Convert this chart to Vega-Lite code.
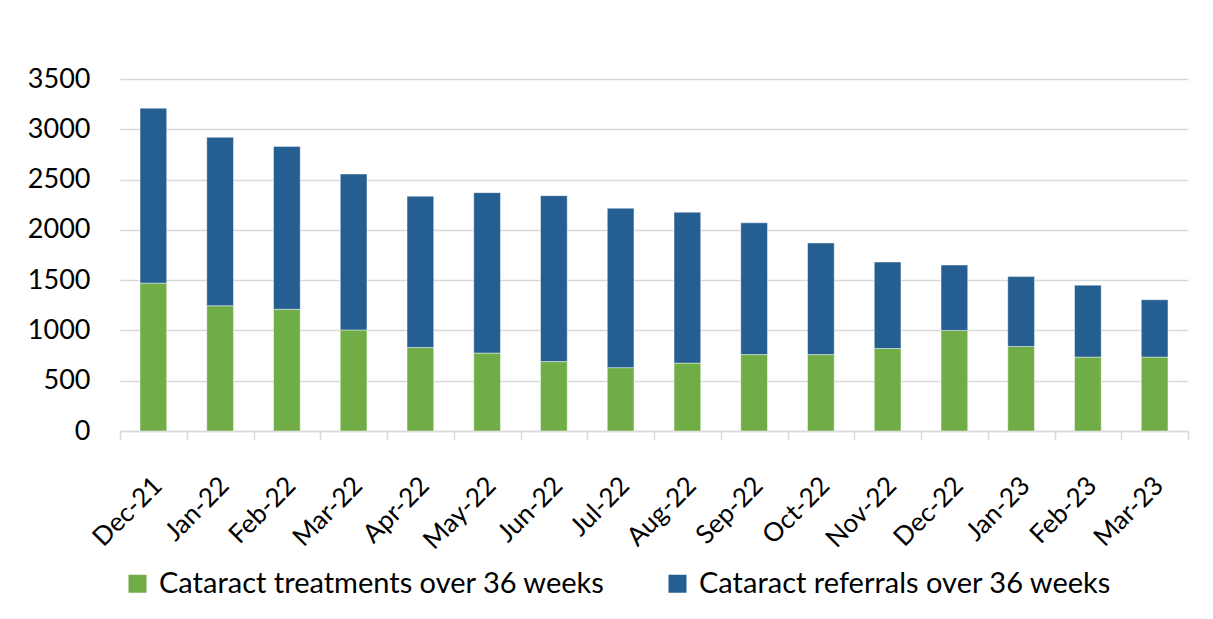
{
  "$schema": "https://vega.github.io/schema/vega-lite/v6.json",
  "autosize": "none",
  "width": 1068,
  "height": 352,
  "padding": {"left": 120, "top": 79, "right": 25, "bottom": 188},
  "background": "white",
  "config": {
    "font": "Lato",
    "view": {"stroke": null}
  },
  "data": {
    "values": [
      {"month": "Dec-21", "series": "Cataract treatments over 36 weeks", "value": 1470},
      {"month": "Dec-21", "series": "Cataract referrals over 36 weeks", "value": 1740},
      {"month": "Jan-22", "series": "Cataract treatments over 36 weeks", "value": 1245},
      {"month": "Jan-22", "series": "Cataract referrals over 36 weeks", "value": 1675},
      {"month": "Feb-22", "series": "Cataract treatments over 36 weeks", "value": 1210},
      {"month": "Feb-22", "series": "Cataract referrals over 36 weeks", "value": 1620},
      {"month": "Mar-22", "series": "Cataract treatments over 36 weeks", "value": 1005},
      {"month": "Mar-22", "series": "Cataract referrals over 36 weeks", "value": 1550},
      {"month": "Apr-22", "series": "Cataract treatments over 36 weeks", "value": 830},
      {"month": "Apr-22", "series": "Cataract referrals over 36 weeks", "value": 1505},
      {"month": "May-22", "series": "Cataract treatments over 36 weeks", "value": 775},
      {"month": "May-22", "series": "Cataract referrals over 36 weeks", "value": 1595},
      {"month": "Jun-22", "series": "Cataract treatments over 36 weeks", "value": 690},
      {"month": "Jun-22", "series": "Cataract referrals over 36 weeks", "value": 1650},
      {"month": "Jul-22", "series": "Cataract treatments over 36 weeks", "value": 630},
      {"month": "Jul-22", "series": "Cataract referrals over 36 weeks", "value": 1585},
      {"month": "Aug-22", "series": "Cataract treatments over 36 weeks", "value": 675},
      {"month": "Aug-22", "series": "Cataract referrals over 36 weeks", "value": 1500},
      {"month": "Sep-22", "series": "Cataract treatments over 36 weeks", "value": 760},
      {"month": "Sep-22", "series": "Cataract referrals over 36 weeks", "value": 1310},
      {"month": "Oct-22", "series": "Cataract treatments over 36 weeks", "value": 760},
      {"month": "Oct-22", "series": "Cataract referrals over 36 weeks", "value": 1110},
      {"month": "Nov-22", "series": "Cataract treatments over 36 weeks", "value": 820},
      {"month": "Nov-22", "series": "Cataract referrals over 36 weeks", "value": 860},
      {"month": "Dec-22", "series": "Cataract treatments over 36 weeks", "value": 1000},
      {"month": "Dec-22", "series": "Cataract referrals over 36 weeks", "value": 650},
      {"month": "Jan-23", "series": "Cataract treatments over 36 weeks", "value": 840},
      {"month": "Jan-23", "series": "Cataract referrals over 36 weeks", "value": 695},
      {"month": "Feb-23", "series": "Cataract treatments over 36 weeks", "value": 735},
      {"month": "Feb-23", "series": "Cataract referrals over 36 weeks", "value": 715},
      {"month": "Mar-23", "series": "Cataract treatments over 36 weeks", "value": 735},
      {"month": "Mar-23", "series": "Cataract referrals over 36 weeks", "value": 570}
    ]
  },
  "mark": {"type": "bar", "width": {"band": 0.4}, "stroke": "white", "strokeWidth": 0.75, "strokeOpacity": 0.6},
  "encoding": {
    "x": {
      "field": "month",
      "type": "nominal",
      "sort": null,
      "scale": {"paddingInner": 0, "paddingOuter": 0},
      "axis": {
        "title": null,
        "labelAngle": -45,
        "labelFontSize": 26,
        "labelColor": "black",
        "labelPadding": 32,
        "labelOffset": -5,
        "tickBand": "extent",
        "tickColor": "#d9d9d9",
        "tickWidth": 1.5,
        "tickSize": 9,
        "domainColor": "#d9d9d9",
        "domainWidth": 1.5
      }
    },
    "y": {
      "field": "value",
      "type": "quantitative",
      "stack": "zero",
      "scale": {"domain": [0, 3500], "nice": false},
      "axis": {
        "title": null,
        "values": [0, 500, 1000, 1500, 2000, 2500, 3000, 3500],
        "format": "d",
        "labelFontSize": 27,
        "labelColor": "black",
        "labelPadding": 30,
        "ticks": false,
        "domain": false,
        "gridColor": "#d9d9d9",
        "gridWidth": 1.5
      }
    },
    "color": {
      "field": "series",
      "type": "nominal",
      "scale": {
        "domain": ["Cataract treatments over 36 weeks", "Cataract referrals over 36 weeks"],
        "range": ["#70AD47", "#255E91"]
      },
      "legend": {
        "title": null,
        "orient": "none",
        "legendX": 3,
        "legendY": 490,
        "direction": "horizontal",
        "symbolType": "square",
        "symbolSize": 324,
        "symbolStrokeWidth": 0,
        "labelFontSize": 29,
        "labelLimit": 0,
        "labelOffset": 7,
        "labelColor": "black",
        "columnPadding": 57
      }
    },
    "order": {"field": "series", "sort": "descending"}
  }
}
